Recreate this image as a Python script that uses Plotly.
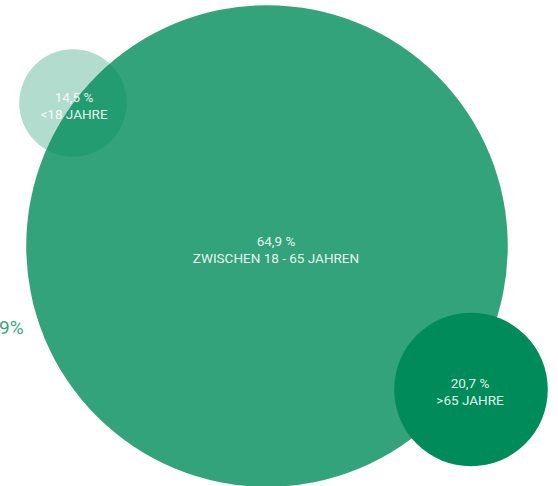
import plotly.graph_objects as go

# Age groups and their population shares (%)
groups = ["<18 JAHRE", "ZWISCHEN 18 - 65 JAHREN", ">65 JAHRE"]
shares = [14.5, 64.9, 20.7]
share_labels = ["14,5 %", "64,9 %", "20,7 %"]

# Bubble centres in the 558 x 486 plotting space
centre_x = [73, 267, 471]
centre_y = [383, 240, 96.5]
opacities = [0.3, 0.8, 1.0]

# Label anchor points
label_x = [74, 276, 470]
label_y = [379, 235, 93]

BASE_COLOR = "#008c5a"
PX_PER_PERCENT = 7.42  # bubble diameter per percentage point

fig = go.Figure()
for s, cx, cy, op in zip(shares, centre_x, centre_y, opacities):
    fig.add_trace(go.Scatter(
        x=[cx], y=[cy],
        mode="markers",
        marker=dict(size=s * PX_PER_PERCENT, color=BASE_COLOR, opacity=op,
                    line=dict(width=0)),
        hoverinfo="skip",
        showlegend=False,
        cliponaxis=False,
    ))

# Labels drawn on top of all bubbles
fig.add_trace(go.Scatter(
    x=label_x, y=label_y,
    mode="text",
    text=[f"{lab}<br>{g}" for lab, g in zip(share_labels, groups)],
    textposition="middle center",
    textfont=dict(family="Roboto", size=13.5, color="rgba(255,255,255,0.9)"),
    hoverinfo="skip",
    showlegend=False,
    cliponaxis=False,
))

# Partially visible share label at the left edge
fig.add_annotation(x=26, y=159, text="64,9%", showarrow=False,
                   xanchor="right", yanchor="middle",
                   font=dict(family="Roboto", size=19, color="#3aa57f"))

fig.update_layout(
    width=558, height=486,
    margin=dict(l=0, r=0, t=0, b=0),
    paper_bgcolor="white", plot_bgcolor="white",
    xaxis=dict(range=[0, 558], visible=False, fixedrange=True),
    yaxis=dict(range=[0, 486], visible=False, fixedrange=True),
)

fig.write_html("out.html")
